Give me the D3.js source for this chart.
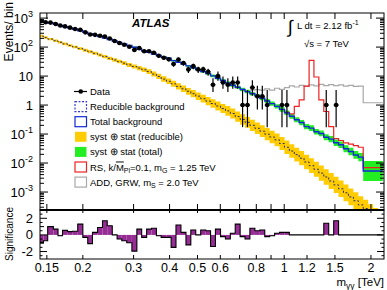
<!DOCTYPE html>
<html><head><meta charset="utf-8">
<script src="https://cdn.jsdelivr.net/npm/d3@7"></script>
<style>body{margin:0;background:#fff}svg{display:block;font-family:"Liberation Sans",Arial,Helvetica,sans-serif}</style>
</head><body><svg id="c" width="387" height="290"></svg>
<script>
// ---- data ----
const binEdges = [0.140,0.146,0.151,0.158,0.164,0.170,0.177,0.184,0.192,0.200,0.208,0.216,0.225,0.234,0.243,0.253,0.263,0.273,0.284,0.296,0.308,0.320,0.333,0.346,0.360,0.374,0.390,0.405,0.421,0.438,0.456,0.474,0.493,0.513,0.534,0.555,0.577,0.601,0.625,0.650,0.676,0.703,0.731,0.760,0.791,0.823,0.856,0.890,0.926,0.963,1.002,1.042,1.084,1.127,1.172,1.220,1.268,1.319,1.372,1.427,1.485,1.544,1.606,1.671,1.738,1.808,1.880,1.956,2.034,2.116,2.200];
const totalBkg = [807,735,673,611,556,505,459,411,368,327, 290,259,232,206,183,162,144,128,113,99, 86,75,66,58,51,45,41,34,30,26, 22.5,19.3,16.6,14.3,12.2,10.2,8.4,7.0,5.8,4.85, 4.1,3.45,2.92,2.47,2.08,1.71,1.38,1.12,0.90,0.71, 0.54,0.41,0.31,0.25,0.18,0.16,0.12,0.105,0.078,0.067, 0.050,0.043,0.031,0.025,0.019,0.016,0.0053,0.0053,0.0053,0.0053];
const reducibleBkg = [241,213,189,166,147,129,114,101,89,78, 69,61,53,47,41,36,31.6,27.9,24.3,21.4, 18.9,16.5,14.3,11.7,9.7,7.9,6.6,5.4,4.4,3.65, 2.99,2.47,2.03,1.66,1.37,1.13,0.93,0.76,0.63,0.51, 0.40,0.32,0.253,0.200,0.158,0.126,0.099,0.079,0.063,0.047, 0.035,0.026,0.0195,0.0147,0.0109,0.0081,0.0061,0.0045,0.0033,0.0024, 0.00176,0.00129,0.00094,0.00068,0.0005,0.00036,0.00027,0.00019,0.00014,0.0001];
const reducibleUnc = [0.10,0.10,0.10,0.10,0.10,0.11,0.11,0.11,0.12,0.12, 0.12,0.13,0.13,0.14,0.14,0.15,0.15,0.16,0.17,0.18, 0.19,0.20,0.21,0.22,0.23,0.24,0.25,0.27,0.28,0.30, 0.31,0.33,0.35,0.36,0.38,0.40,0.42,0.44,0.46,0.48, 0.50,0.52,0.54,0.56,0.58,0.60,0.62,0.64,0.66,0.68, 0.70,0.72,0.74,0.76,0.78,0.80,0.82,0.84,0.86,0.88, 0.90,0.92,0.94,0.96,0.98,1.0,1.0,1.0,1.0,1.0];
const totalUnc = [0.02,0.02,0.02,0.02,0.02,0.02,0.02,0.02,0.03,0.03, 0.03,0.03,0.03,0.03,0.04,0.04,0.04,0.04,0.04,0.05, 0.05,0.05,0.05,0.06,0.06,0.06,0.07,0.07,0.07,0.08, 0.08,0.09,0.09,0.10,0.10,0.11,0.11,0.12,0.12,0.13, 0.13,0.14,0.15,0.15,0.16,0.17,0.17,0.18,0.19,0.20, 0.20,0.21,0.22,0.23,0.24,0.25,0.25,0.26,0.27,0.28, 0.29,0.30,0.32,0.34,0.36,0.40,1.2,1.2,1.2,1.2];
const dataCounts = [781,716,699,628,554,517,468,420,393,322, 272,264,246,230,198,162,138,120,103,80, 92,72,72,64,50,43,38,26,37,28, 17,22,17,17,14,5,10,6,5,6, 6,1,1,4,2,2,1,0,0,1, 1,0,0,0,0,0,0,0,1,0, 1,0,0,0,0,0,0,0,0,0];
const significance = [-0.9,-0.7,1.0,0.7,-0.1,0.55,0.4,0.45,1.3,-0.3, -1.05,0.3,0.9,1.7,1.1,0.0,-0.5,-0.7,-0.95,-1.95, 0.7,-0.3,0.7,0.8,-0.1,-0.3,-0.3,-1.5,1.2,0.3, -1.2,0.6,0.0,0.6,0.5,-1.4,0.7,-0.2,-0.5,0.2, 1.3,-0.2,-0.5,0.8,0.5,0.6,-0.2,-0.1,0.2,0.3, 0.3,0,0,0,0,0,0,0,1.4,0, 1.7,0,0,0,0,0,0,0,0,0];
const rsFirstBin = 50;
const rsSignal = [0.56,0.5,0.9,1.5,4.5,35,9.3,1.5,0.6,0.18,0.07,0.06,0.05,0.045,0.04,0.035,0.007,0.007,0.007,0.007];
const addFirstBin = 43;
const addSignal = [3.3,3.4,3.3,3.6,3.3,3.8,3.5,4.0,4.6,4.2,4.8,4.4,5.0,4.6,5.2,4.7,5.1,4.7,5.0,4.5,4.8,4.4,4.5,1.2,1.2,1.2,1.2];
const xTickValues = [0.15,0.2,0.3,0.4,0.5,0.6,0.7,0.8,0.9,1,1.2,1.5,2];
const xTickLabels = ["0.15","0.2","0.3","0.4","0.5","0.6","","0.8","","1","1.2","1.5","2"];
const yTickExp = [3,2,1,0,-1,-2,-3];
const legendLabels = ["Data","Reducible background","Total background","syst \u2295 stat (reducible)","syst \u2295 stat (total)","RS","ADD"];

// ---- layout ----
const svg = d3.select("#c");
const L=40,R=384,T=13,MB=210,RB=259;
const xs = d3.scaleLog().domain([0.142,2.22]).range([L,R]);
const ys = d3.scaleLog().domain([2.4e-4,1.5e3]).range([MB,T]);
const yr = d3.scaleLinear().domain([-2.9,3.0]).range([RB,MB]);
const defs = svg.append("defs");
defs.append("clipPath").attr("id","cm").append("rect").attr("x",L).attr("y",T).attr("width",R-L).attr("height",MB-T);
defs.append("clipPath").attr("id","cr").append("rect").attr("x",L).attr("y",MB).attr("width",R-L).attr("height",RB-MB);
const nb = binEdges.length-1;
const main = svg.append("g").attr("clip-path","url(#cm)");

function stepPts(vals, first){ first=first||0; const p=[]; for(let i=0;i<vals.length;i++){p.push({x:binEdges[first+i],v:vals[i]});} p.push({x:binEdges[first+vals.length],v:vals[vals.length-1]}); return p; }
function bandPts(vals, rel){ const p=[]; for(let i=0;i<nb;i++){p.push({x:binEdges[i],lo:vals[i]/(1+rel[i]),hi:vals[i]*(1+rel[i])});} p.push({x:binEdges[nb],lo:p[nb-1].lo,hi:p[nb-1].hi}); return p; }
const band = d3.area().x(d=>xs(d.x)).y0(d=>ys(d.lo)).y1(d=>ys(d.hi)).curve(d3.curveStepAfter);
const line = d3.line().x(d=>xs(d.x)).y(d=>ys(d.v)).curve(d3.curveStepAfter);

main.append("path").attr("d",band(bandPts(reducibleBkg,reducibleUnc))).attr("fill","#ffcc00");
main.append("path").attr("d",band(bandPts(totalBkg,totalUnc))).attr("fill","#22ee22");
main.append("path").attr("d",line(stepPts(reducibleBkg))).attr("fill","none").attr("stroke","#2a2a7a").attr("stroke-width",1).attr("stroke-dasharray","2,2");
main.append("path").attr("d",line(stepPts(addSignal,addFirstBin))).attr("fill","none").attr("stroke","#a8a8a8").attr("stroke-width",1.2);
main.append("path").attr("d",line(stepPts(rsSignal,rsFirstBin))).attr("fill","none").attr("stroke","#ee2222").attr("stroke-width",1.2);
main.append("path").attr("d",line(stepPts(totalBkg))).attr("fill","none").attr("stroke","#1028d8").attr("stroke-width",1.4);

const garwood = {1:[0.173,3.300],2:[0.708,4.638],3:[1.367,5.918],4:[2.086,7.163],5:[2.840,8.382],6:[3.620,9.584],7:[4.419,10.77],8:[5.232,11.95],9:[6.057,13.11],10:[6.891,14.27]};
const gd = main.append("g");
dataCounts.forEach((n,i)=>{
  if(n<=0) return;
  const cx = xs(Math.sqrt(binEdges[i]*binEdges[i+1]));
  const e = garwood[n] || [n-Math.sqrt(n), n+Math.sqrt(n)];
  gd.append("line").attr("x1",cx).attr("x2",cx).attr("y1",ys(e[0])).attr("y2",ys(e[1])).attr("stroke","#000").attr("stroke-width",1.2);
  gd.append("line").attr("x1",xs(binEdges[i])).attr("x2",xs(binEdges[i+1])).attr("y1",ys(n)).attr("y2",ys(n)).attr("stroke","#000").attr("stroke-width",1.2);
  gd.append("circle").attr("cx",cx).attr("cy",ys(n)).attr("r",2.3).attr("fill","#000");
});

// ---- ratio panel ----
const rg = svg.append("g").attr("clip-path","url(#cr)");
significance.forEach((s,i)=>{
  if(s===0) return;
  const y0=yr(0), y1=yr(s);
  rg.append("rect").attr("x",xs(binEdges[i])).attr("width",xs(binEdges[i+1])-xs(binEdges[i])).attr("y",Math.min(y0,y1)).attr("height",Math.abs(y1-y0)).attr("fill","#952d95");
});
let pd = "M"+xs(binEdges[0])+","+yr(significance[0]);
significance.forEach((s,i)=>{ pd += "V"+yr(s)+"H"+xs(binEdges[i+1]); });
rg.append("path").attr("d",pd).attr("fill","none").attr("stroke","#000").attr("stroke-width",1.1);

// ---- frames & ticks ----
const ax = svg.append("g").attr("stroke","#000").attr("fill","none");
ax.append("rect").attr("x",L).attr("y",T).attr("width",R-L).attr("height",MB-T).attr("stroke-width",1);
ax.append("rect").attr("x",L).attr("y",MB).attr("width",R-L).attr("height",RB-MB).attr("stroke-width",1);
ax.append("line").attr("x1",L).attr("x2",R).attr("y1",MB).attr("y2",MB).attr("stroke-width",2.2);
for(let d=-4; d<=3; d++){ for(let m=1;m<=9;m++){ const v=m*Math.pow(10,d); if(v<2.4e-4||v>1.5e3) continue; const y=ys(v); const len=m===1?8:4;
  ax.append("line").attr("x1",L).attr("x2",L+len).attr("y1",y).attr("y2",y);
  ax.append("line").attr("x1",R).attr("x2",R-len).attr("y1",y).attr("y2",y);
}}
xTickValues.forEach((v,i)=>{ const x=xs(v); const len = 6;
  ax.append("line").attr("x1",x).attr("x2",x).attr("y1",T).attr("y2",T+len);
  ax.append("line").attr("x1",x).attr("x2",x).attr("y1",MB).attr("y2",MB-len);
  ax.append("line").attr("x1",x).attr("x2",x).attr("y1",RB).attr("y2",RB-4);
  ax.append("line").attr("x1",x).attr("x2",x).attr("y1",MB).attr("y2",MB+3);
});
for(let v=-2.5; v<=2.51; v+=0.5){ const y=yr(v); const major = Math.abs(v%2)<1e-6; const len = major?7:(Math.abs(v%1)<1e-6?4:2.5);
  ax.append("line").attr("x1",L).attr("x2",L+len).attr("y1",y).attr("y2",y);
  ax.append("line").attr("x1",R).attr("x2",R-len).attr("y1",y).attr("y2",y);
}

// ---- labels ----
const tx = svg.append("g").attr("fill","#000");
yTickExp.forEach(e=>{
  const t = tx.append("text").attr("x",33).attr("y",ys(Math.pow(10,e))+4.5).attr("text-anchor","end").attr("font-size",13);
  if(e===1) t.text("10"); else if(e===0) t.text("1");
  else { t.append("tspan").text("10"); t.append("tspan").attr("font-size",9).attr("dy",-6).text(String(e)); }
});
[2,0,-2].forEach(v=>{ tx.append("text").attr("x",33).attr("y",yr(v)+4.5).attr("text-anchor","end").attr("font-size",13).text(String(v)); });
xTickValues.forEach((v,i)=>{ if(!xTickLabels[i]) return; tx.append("text").attr("x",xs(v)).attr("y",271.5).attr("text-anchor","middle").attr("font-size",12.5).text(xTickLabels[i]); });
tx.append("text").attr("transform","translate(13,2) rotate(-90)").attr("text-anchor","end").attr("font-size",12).text("Events/ bin");
tx.append("text").attr("transform","translate(13,234) rotate(-90)").attr("text-anchor","middle").attr("font-size",10).text("Significance");
const xl = tx.append("text").attr("x",384).attr("y",286).attr("text-anchor","end").attr("font-size",11.5);
xl.append("tspan").text("m"); xl.append("tspan").attr("font-size",8.5).attr("dy",2.5).text("\u03b3\u03b3"); xl.append("tspan").attr("dy",-2.5).text(" [TeV]");
tx.append("text").attr("x",132).attr("y",27).attr("font-size",11.5).attr("font-weight","bold").attr("font-style","italic").text("ATLAS");
tx.append("text").attr("x",288).attr("y",33).attr("font-size",18).text("\u222b");
const lum = tx.append("text").attr("x",297).attr("y",28.5).attr("font-size",9.5);
lum.append("tspan").text("L dt = 2.12 fb"); lum.append("tspan").attr("font-size",7).attr("dy",-4).text("-1");
tx.append("text").attr("x",304).attr("y",46.5).attr("font-size",9.5).text("\u221as = 7 TeV");

// ---- legend ----
const lg = svg.append("g");
const ly0 = 91.5, ldy = 15.1, bx = 75, bw = 11.5, bh = 10;
legendLabels.forEach((lab,i)=>{
  const cy = ly0 + i*ldy;
  if(i===0){ lg.append("line").attr("x1",bx-1).attr("x2",bx+bw+0.5).attr("y1",cy).attr("y2",cy).attr("stroke","#000").attr("stroke-width",1.2);
    lg.append("circle").attr("cx",bx+bw/2).attr("cy",cy).attr("r",2.3).attr("fill","#000"); }
  else {
    const st = [null,{s:"#3a3ad0",f:"none",d:"2,1.5"},{s:"#1028d8",f:"none"},{s:"none",f:"#ffcc00"},{s:"none",f:"#22ee22"},{s:"#ee2222",f:"none"},{s:"#a8a8a8",f:"none"}][i];
    const r = lg.append("rect").attr("x",bx).attr("y",cy-bh/2).attr("width",bw).attr("height",bh).attr("fill",st.f).attr("stroke",st.s).attr("stroke-width",1.2);
    if(st.d) r.attr("stroke-dasharray",st.d);
  }
  const t = lg.append("text").attr("x",90).attr("y",cy+3.5).attr("font-size",9.5).attr("fill","#000");
  if(i===5){ t.append("tspan").text("RS, k/"); t.append("tspan").attr("text-decoration","overline").text("M"); t.append("tspan").attr("font-size",7).attr("dy",2).text("Pl"); t.append("tspan").attr("dy",-2).text("=0.1, m"); t.append("tspan").attr("font-size",7).attr("dy",2).text("G"); t.append("tspan").attr("dy",-2).text(" = 1.25 TeV"); }
  else if(i===6){ t.append("tspan").text("ADD, GRW, m"); t.append("tspan").attr("font-size",7).attr("dy",2).text("S"); t.append("tspan").attr("dy",-2).text(" = 2.0 TeV"); }
  else t.text(lab);
});
</script></body></html>
